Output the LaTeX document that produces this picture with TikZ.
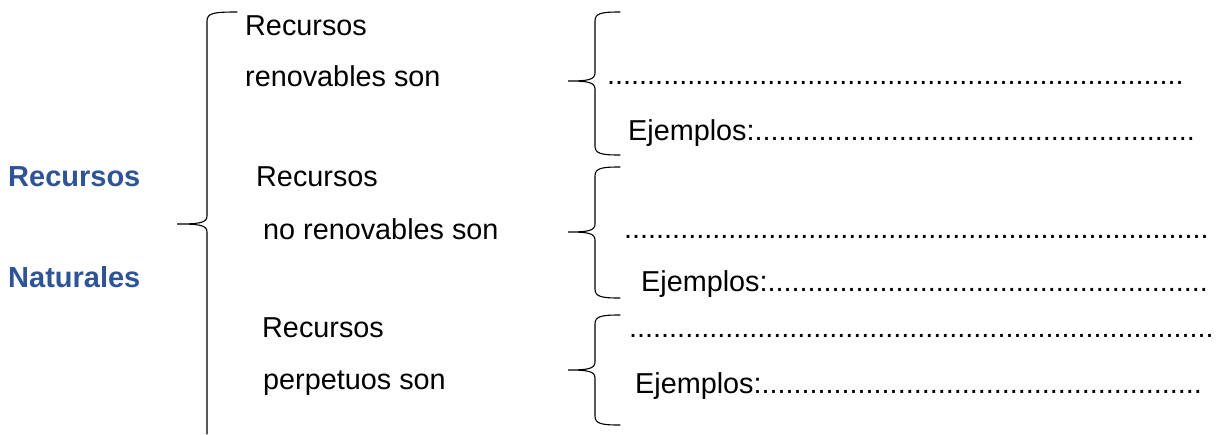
\documentclass[tikz,border=0pt]{standalone}
\usepackage{fontspec}
\setmainfont{Liberation Sans}
\definecolor{titleblue}{HTML}{2F5496}
\ExplSyntaxOn
\cs_new:Npn \rdots #1 { \prg_replicate:nn {#1} {.} }
\ExplSyntaxOff
% #1 tip x, #2 spine x, #3 hook end x, #4 top y, #5 tip y, #6 bottom y
\newcommand\wordbrace[6]{%
  \draw[bracestyle] (#3,#4) .. controls (#2+7,#4) and (#2,#4+1) .. (#2,#4+9)
    -- (#2,#5-8) .. controls (#2,#5-1) and (#2-8,#5) .. (#1,#5)
    .. controls (#2-8,#5) and (#2,#5+1) .. (#2,#5+8)
    -- (#2,#6-9) .. controls (#2,#6-1) and (#2+7,#6) .. (#3,#6);}
\begin{document}
\begin{tikzpicture}[x=1pt,y=-1pt,
  bracestyle/.style={draw=black,line width=1.1pt,line cap=round},
  lbl/.style={anchor=base west,inner sep=0pt,font=\fontsize{28.8}{34}\selectfont},
  title/.style={lbl,font=\fontsize{29}{34}\selectfont\bfseries,text=titleblue}]
\useasboundingbox (0,0) rectangle (1217,434);
% left title
\node[title] (rn1) at (8,186) {Recursos};
\node[title] (rn2) at (8,287) {Naturales};
% big brace (open at the bottom)
\draw[bracestyle] (237,12) .. controls (214,12) and (207,13) .. (207,21)
  -- (207,216) .. controls (207,223) and (199,224) .. (177,224)
  .. controls (199,224) and (207,225) .. (207,232) -- (207,434);
% middle column
\node[lbl] (a1) at (245,35) {Recursos};
\node[lbl] (a2) at (245,86) {renovables son};
\node[lbl] (b1) at (256,186) {Recursos};
\node[lbl] (b2) at (263,239) {no renovables son};
\node[lbl] (c1) at (262,337) {Recursos};
\node[lbl] (c2) at (263,389) {perpetuos son};
% small braces
\wordbrace{568}{595}{620}{12}{81}{155}
\wordbrace{568}{595}{620}{167}{232}{298}
\wordbrace{568}{595}{620}{315}{370}{425}
% right column
\node[lbl] (d1) at (607,84) {\rdots{72}};
\node[lbl] (e1) at (628,140) {Ejemplos:\rdots{55}};
\node[lbl] (d2) at (624,238) {\rdots{73}};
\node[lbl] (e2) at (641,291) {Ejemplos:\rdots{55}};
\node[lbl] (d3) at (629,337) {\rdots{73}};
\node[lbl] (e3) at (635,393) {Ejemplos:\rdots{55}};
\end{tikzpicture}
\end{document}
